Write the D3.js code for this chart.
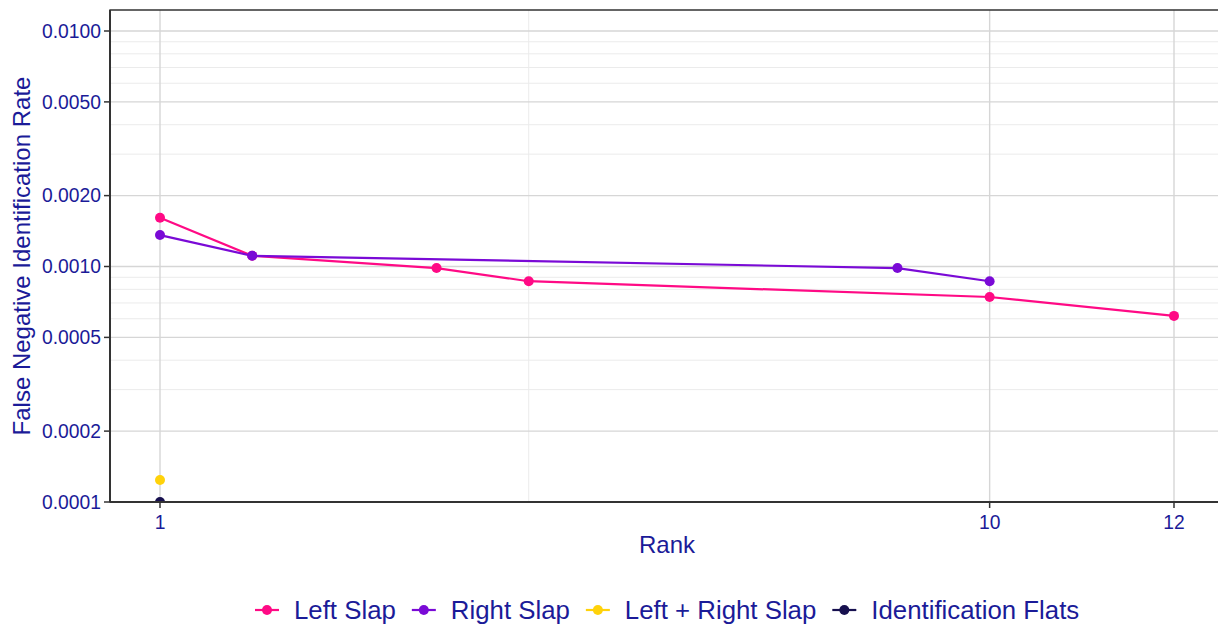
<!DOCTYPE html>
<html><head><meta charset="utf-8">
<script src="https://cdn.jsdelivr.net/npm/d3@7"></script>
<style>body{margin:0;background:#fff;} text{font-family:"Liberation Sans",Arial,sans-serif;}</style>
</head><body><svg id="c" width="1218" height="626"></svg>
<script>
const seriesNames = ["Left Slap","Right Slap","Left + Right Slap","Identification Flats"];
const seriesColors = ["#FF0A85","#7A0AD6","#FFD20A","#17104F"];
const leftSlapRank = [1,2,4,5,10,12];
const leftSlapFNIR = [0.00161,0.00111,0.000985,0.000866,0.000742,0.000617];
const rightSlapRank = [1,2,9,10];
const rightSlapFNIR = [0.00136,0.00111,0.000985,0.000866];
const lrSlapRank = [1];
const lrSlapFNIR = [0.000124];
const flatsRank = [1];
const flatsFNIR = [0.0001];
const xTicks = [1,10,12];
const xMinor = [5];
const yTicks = [0.0001,0.0002,0.0005,0.001,0.002,0.005,0.01];
const yTickLabels = ["0.0001","0.0002","0.0005","0.0010","0.0020","0.0050","0.0100"];
const yMinor = [0.0003,0.0004,0.0006,0.0007,0.0008,0.0009,0.003,0.004,0.006,0.007,0.008,0.009];

const series = [
  {name:seriesNames[0], color:seriesColors[0], rank:leftSlapRank, v:leftSlapFNIR},
  {name:seriesNames[1], color:seriesColors[1], rank:rightSlapRank, v:rightSlapFNIR},
  {name:seriesNames[2], color:seriesColors[2], rank:lrSlapRank, v:lrSlapFNIR},
  {name:seriesNames[3], color:seriesColors[3], rank:flatsRank, v:flatsFNIR}
];

const txt = "#1B1B98";
const svg = d3.select("#c");
const L=110, T=10, B=502, R=1226;
const x = d3.scaleLinear().domain([1,12]).range([160,1174]);
const y = d3.scaleLog().domain([0.0001,0.01]).range([B,31]);

svg.append("defs").append("clipPath").attr("id","clip")
  .append("rect").attr("x",L).attr("y",T).attr("width",R-L).attr("height",B-T);

const g = svg.append("g");
g.selectAll(".ym").data(yMinor).enter().append("line")
  .attr("x1",L).attr("x2",R).attr("y1",d=>y(d)).attr("y2",d=>y(d))
  .attr("stroke","#EBEBEB").attr("stroke-width",1);
g.selectAll(".xm").data(xMinor).enter().append("line")
  .attr("y1",T).attr("y2",B).attr("x1",d=>x(d)).attr("x2",d=>x(d))
  .attr("stroke","#EBEBEB").attr("stroke-width",1);
g.selectAll(".yM").data(yTicks).enter().append("line")
  .attr("x1",L).attr("x2",R).attr("y1",d=>y(d)).attr("y2",d=>y(d))
  .attr("stroke","#D6D6D6").attr("stroke-width",1.4);
g.selectAll(".xM").data(xTicks).enter().append("line")
  .attr("y1",T).attr("y2",B).attr("x1",d=>x(d)).attr("x2",d=>x(d))
  .attr("stroke","#D6D6D6").attr("stroke-width",1.4);

const pg = svg.append("g").attr("clip-path","url(#clip)");
const line = d3.line().x(d=>x(d[0])).y(d=>y(d[1]));
series.forEach(s=>{
  const pts = s.rank.map((r,i)=>[r,s.v[i]]);
  if(pts.length>1) pg.append("path").attr("d",line(pts)).attr("fill","none")
    .attr("stroke",s.color).attr("stroke-width",2.2);
  pg.selectAll(null).data(pts).enter().append("circle")
    .attr("cx",d=>x(d[0])).attr("cy",d=>y(d[1])).attr("r",5).attr("fill",s.color);
});

svg.append("path").attr("d",`M${R},${T}H${L}V${B}H${R}`).attr("fill","none")
  .attr("stroke","#333").attr("stroke-width",1.3);
svg.append("line").attr("x1",L).attr("x2",R).attr("y1",B).attr("y2",B).attr("stroke","#333").attr("stroke-width",2.2);
svg.append("line").attr("x1",L).attr("x2",L).attr("y1",T).attr("y2",B).attr("stroke","#333").attr("stroke-width",2);

const ya = svg.append("g");
yTicks.forEach((t,i)=>{
  ya.append("line").attr("x1",L-6).attr("x2",L).attr("y1",y(t)).attr("y2",y(t)).attr("stroke","#333").attr("stroke-width",1.5);
  ya.append("text").attr("x",L-9).attr("y",y(t)).attr("dy","0.35em").attr("text-anchor","end")
    .attr("font-size",19.3).attr("fill",txt).text(yTickLabels[i]);
});
xTicks.forEach(t=>{
  ya.append("line").attr("x1",x(t)).attr("x2",x(t)).attr("y1",B).attr("y2",B+6).attr("stroke","#333").attr("stroke-width",1.5);
  ya.append("text").attr("x",x(t)).attr("y",B+27).attr("text-anchor","middle")
    .attr("font-size",19.3).attr("fill",txt).text(t);
});
svg.append("text").attr("x",667).attr("y",553).attr("text-anchor","middle").attr("font-size",24).attr("fill",txt).text("Rank");
svg.append("text").attr("transform","translate(30,256) rotate(-90)").attr("text-anchor","middle")
  .attr("font-size",24).attr("fill",txt).text("False Negative Identification Rate");

const lg = svg.append("g");
let cx = 255;
const ly = 610;
series.forEach(s=>{
  lg.append("line").attr("x1",cx).attr("x2",cx+24).attr("y1",ly).attr("y2",ly).attr("stroke",s.color).attr("stroke-width",2.2);
  lg.append("circle").attr("cx",cx+12).attr("cy",ly).attr("r",5).attr("fill",s.color);
  const t = lg.append("text").attr("x",cx+39).attr("y",ly).attr("dy","0.35em").attr("font-size",25.8).attr("fill",txt).text(s.name);
  const w = t.node().getComputedTextLength();
  cx = cx+39+w+16;
});
</script></body></html>
